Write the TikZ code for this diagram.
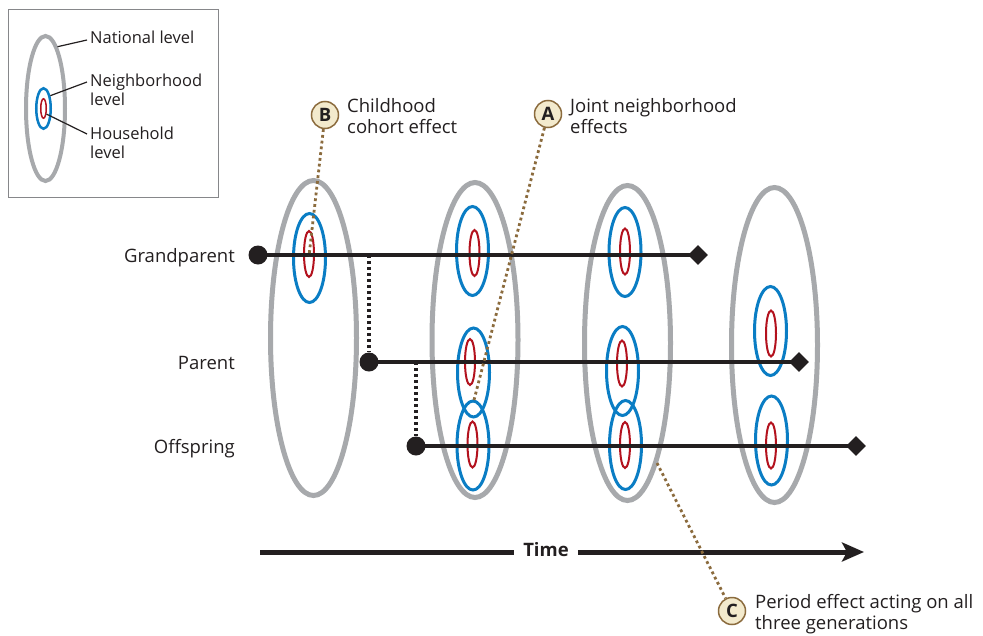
\documentclass[tikz,border=0pt]{standalone}
\usepackage{fontspec}
\setmainfont{Open Sans}
\usetikzlibrary{shapes.geometric,arrows.meta}
\definecolor{natgray}{HTML}{A7A9AC}
\definecolor{nbblue}{HTML}{0A7DC4}
\definecolor{hhred}{HTML}{B3121E}
\definecolor{inkblack}{HTML}{231F20}
\definecolor{dotbrown}{HTML}{8B6B3D}
\definecolor{badgefill}{HTML}{F3EACD}
\tikzset{
  natl/.style={ellipse,draw=natgray,line width=5pt,minimum width=86pt,minimum height=315pt,inner sep=0pt},
  nbhd/.style={ellipse,draw=nbblue,line width=3pt,minimum width=32pt,minimum height=89pt,inner sep=0pt},
  hhld/.style={ellipse,draw=hhred,line width=2pt,minimum width=10pt,minimum height=46pt,inner sep=0pt},
  gen/.style={draw=inkblack,line width=3.2pt},
  startdot/.style={circle,fill=inkblack,minimum size=19pt,inner sep=0pt},
  enddia/.style={diamond,fill=inkblack,minimum size=20pt,inner sep=0pt},
  blackdots/.style={draw=inkblack,line width=3.5pt,dash pattern=on 3pt off 3pt},
  browndots/.style={draw=dotbrown,line width=2.8pt,dash pattern=on 2.8pt off 3pt},
  badge/.style={circle,draw=dotbrown,fill=badgefill,line width=1.5pt,minimum size=27pt,inner sep=0pt,font=\fontsize{18.5}{21.5}\selectfont\bfseries,text=inkblack},
  maintext/.style={inner sep=0pt,align=left,font=\fontsize{18.5}{21.5}\selectfont,text=inkblack},
  legtext/.style={inner sep=0pt,align=left,font=\fontsize{16.5}{18.5}\selectfont,text=inkblack},
  leader/.style={draw=inkblack,line width=1.2pt},
}
\begin{document}
\begin{tikzpicture}[x=1pt,y=-1pt]
\useasboundingbox (0,0) rectangle (983,635);
\fill[white] (0,0) rectangle (983,635);

% ---------- legend ----------
\node[draw=natgray!80!black,line width=1pt,minimum width=210pt,minimum height=188pt,inner sep=0pt,anchor=north west] (legbox) at (8,9) {};
\node[natl,line width=4pt,minimum width=39pt,minimum height=145pt] (lnat) at (45.5,108.5) {};
\node[nbhd,line width=2.5pt,minimum width=14.5pt,minimum height=40.5pt] (lnb) at (43.5,108.5) {};
\node[hhld,line width=1.5pt,minimum width=5.5pt,minimum height=19.5pt] (lhh) at (43.5,108.5) {};
\node[legtext,anchor=north west] (lnattext) at (90,31) {National level};
\node[legtext,anchor=north west] (lnbtext) at (90,74) {Neighborhood\\level};
\node[legtext,anchor=north west] (lhhtext) at (90,127) {Household\\level};
\coordinate (lnatend) at (87,40);
\coordinate (lnbend) at (87,82);
\coordinate (lhhend) at (87,134);
\draw[leader] (lnat.79) -- (lnatend);
\draw[leader] (lnb.62) -- (lnbend);
\draw[leader] (lhh.-62) -- (lhhend);

% ---------- national ellipses ----------
\node[natl] (n1) at (313.5,338) {};
\node[natl] (n2) at (475,340) {};
\node[natl] (n3) at (627.5,343) {};
\node[natl] (n4) at (774.5,345) {};

% ---------- neighborhood ellipses ----------
\node[nbhd] (b11) at (309.5,258) {};
\node[nbhd] (b21) at (472.5,251) {};
\node[nbhd] (b22) at (473.5,372.5) {};
\node[nbhd] (b23) at (473,445.5) {};
\node[nbhd] (b31) at (625,252) {};
\node[nbhd] (b32) at (622.5,371) {};
\node[nbhd] (b33) at (625.5,445) {};
\node[nbhd] (b42) at (770.5,331) {};
\node[nbhd] (b43) at (771.5,440.5) {};

% ---------- household ellipses ----------
\node[hhld] (r11) at (309,254) {};
\node[hhld] (r21) at (474.5,253) {};
\node[hhld] (r22) at (470,362) {};
\node[hhld] (r23) at (472.5,444.5) {};
\node[hhld] (r31) at (625,251.5) {};
\node[hhld] (r32) at (622,363.5) {};
\node[hhld] (r33) at (625,445) {};
\node[hhld] (r42) at (771,333.5) {};
\node[hhld] (r43) at (771,445.5) {};

% ---------- generation lines ----------
\node[startdot] (gdot) at (258,255) {};
\node[enddia] (gdia) at (698,255) {};
\node[startdot] (pdot) at (369,362) {};
\node[enddia] (pdia) at (799,362) {};
\node[startdot] (odot) at (416,446) {};
\node[enddia] (odia) at (856,446) {};
\draw[gen] (gdot.center) -- (gdia.center);
\draw[gen] (pdot.center) -- (pdia.center);
\draw[gen] (odot.center) -- (odia.center);
\draw[blackdots] (pdot |- gdot) -- (pdot.north);
\draw[blackdots] (odot |- pdot) -- (odot.north);

\node[maintext,anchor=base east] (glabel) at (235,262) {Grandparent};
\node[maintext,anchor=base east] (plabel) at (235,369) {Parent};
\node[maintext,anchor=base east] (olabel) at (235,453) {Offspring};

% ---------- time arrow ----------
\coordinate (tstart) at (260,552);
\coordinate (tend) at (864,552);
\node[maintext,font=\fontsize{18.5}{21.5}\selectfont\bfseries,inner xsep=9pt] (time) at (546,550) {Time};
\draw[inkblack,line width=5pt] (tstart) -- (time.west |- tstart);
\draw[inkblack,line width=5pt,-{Stealth[length=22pt,width=19pt,inset=5pt]}] (time.east |- tend) -- (tend);

% ---------- annotations ----------
\node[badge] (B) at (325,115) {B};
\node[badge] (A) at (548,114) {A};
\node[badge] (C) at (732,611) {C};
\coordinate (bend) at (309,256);
\coordinate (aend) at (474,400);
\coordinate (cstart) at (657,463);
\draw[browndots] (B) -- (bend);
\draw[browndots] (A) -- (aend);
\draw[browndots] (cstart) -- (C);
\node[maintext,anchor=north west] (btext) at (347,98) {Childhood\\cohort effect};
\node[maintext,anchor=north west] (atext) at (570,98) {Joint neighborhood\\effects};
\node[maintext,anchor=north west] (ctext) at (755,594) {Period effect acting on all\\three generations};
\end{tikzpicture}
\end{document}
